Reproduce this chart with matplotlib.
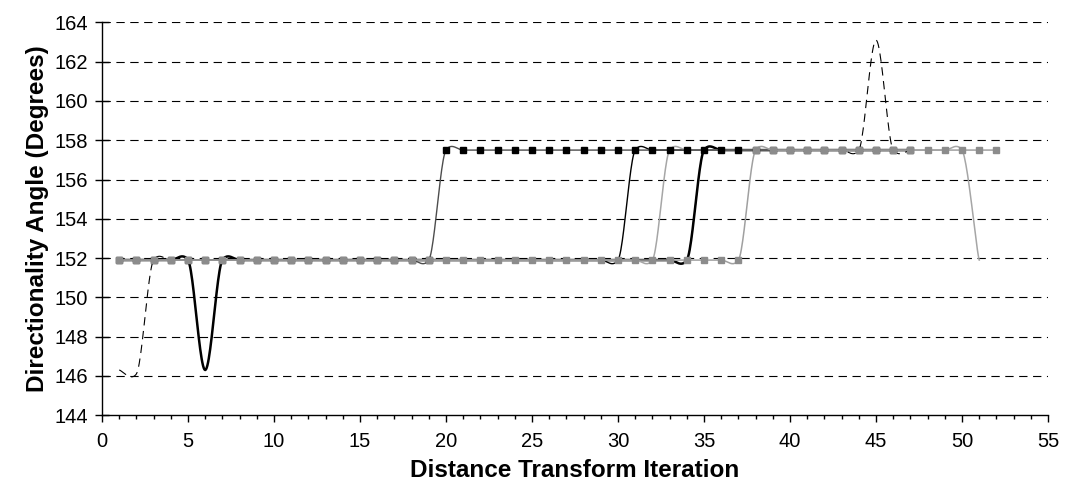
import numpy as np
import matplotlib
matplotlib.use("Agg")
import matplotlib.pyplot as plt

plt.rcParams['font.family'] = ['Liberation Sans', 'DejaVu Sans']

# ---------------- data ----------------
iter_A = list(range(1, 53))
angle_A = [151.9, 151.9, 151.9, 151.9, 151.9, 151.9, 151.9, 151.9, 151.9, 151.9,
           151.9, 151.9, 151.9, 151.9, 151.9, 151.9, 151.9, 151.9, 151.9, 151.9,
           151.9, 151.9, 151.9, 151.9, 151.9, 151.9, 151.9, 151.9, 151.9, 151.9,
           151.9, 151.9, 151.9, 151.9, 151.9, 151.9, 151.9, 157.5, 157.5, 157.5,
           157.5, 157.5, 157.5, 157.5, 157.5, 157.5, 157.5, 157.5, 157.5, 157.5,
           157.5, 157.5]

iter_B = list(range(1, 48))
angle_B = [151.9, 151.9, 151.9, 151.9, 151.9, 151.9, 151.9, 151.9, 151.9, 151.9,
           151.9, 151.9, 151.9, 151.9, 151.9, 151.9, 151.9, 151.9, 151.9, 157.5,
           157.5, 157.5, 157.5, 157.5, 157.5, 157.5, 157.5, 157.5, 157.5, 157.5,
           157.5, 157.5, 157.5, 157.5, 157.5, 157.5, 157.5, 157.5, 157.5, 157.5,
           157.5, 157.5, 157.5, 157.5, 157.5, 157.5, 157.5]

iter_C = list(range(1, 48))
angle_C = [151.9, 151.9, 151.9, 151.9, 151.9, 146.3, 151.9, 151.9, 151.9, 151.9,
           151.9, 151.9, 151.9, 151.9, 151.9, 151.9, 151.9, 151.9, 151.9, 151.9,
           151.9, 151.9, 151.9, 151.9, 151.9, 151.9, 151.9, 151.9, 151.9, 151.9,
           151.9, 151.9, 151.9, 151.9, 157.5, 157.5, 157.5, 157.5, 157.5, 157.5,
           157.5, 157.5, 157.5, 157.5, 157.5, 157.5, 157.5]

iter_D = list(range(1, 48))
angle_D = [151.9, 151.9, 151.9, 151.9, 151.9, 151.9, 151.9, 151.9, 151.9, 151.9,
           151.9, 151.9, 151.9, 151.9, 151.9, 151.9, 151.9, 151.9, 151.9, 151.9,
           151.9, 151.9, 151.9, 151.9, 151.9, 151.9, 151.9, 151.9, 151.9, 151.9,
           157.5, 157.5, 157.5, 157.5, 157.5, 157.5, 157.5, 157.5, 157.5, 157.5,
           157.5, 157.5, 157.5, 157.5, 157.5, 157.5, 157.5]

iter_E = list(range(1, 52))
angle_E = [151.9, 151.9, 151.9, 151.9, 151.9, 151.9, 151.9, 151.9, 151.9, 151.9,
           151.9, 151.9, 151.9, 151.9, 151.9, 151.9, 151.9, 151.9, 151.9, 151.9,
           151.9, 151.9, 151.9, 151.9, 151.9, 151.9, 151.9, 151.9, 151.9, 151.9,
           151.9, 151.9, 157.5, 157.5, 157.5, 157.5, 157.5, 157.5, 157.5, 157.5,
           157.5, 157.5, 157.5, 157.5, 157.5, 157.5, 157.5, 157.5, 157.5, 157.5,
           151.9]

iter_G = list(range(1, 48))
angle_G = [146.3, 146.1, 151.9, 151.9, 151.9, 151.9, 151.9, 151.9, 151.9, 151.9,
           151.9, 151.9, 151.9, 151.9, 151.9, 151.9, 151.9, 151.9, 151.9, 151.9,
           151.9, 151.9, 151.9, 151.9, 151.9, 151.9, 151.9, 151.9, 151.9, 151.9,
           151.9, 151.9, 151.9, 151.9, 157.5, 157.5, 157.5, 157.5, 157.5, 157.5,
           157.5, 157.5, 157.5, 157.5, 163.1, 157.5, 157.5]

x_ticks = [0, 5, 10, 15, 20, 25, 30, 35, 40, 45, 50, 55]
y_ticks = [144, 146, 148, 150, 152, 154, 156, 158, 160, 162, 164]


def smooth(xs, ys, n=24, k=0.45):
    """Excel-style smoothed line (Bezier with damped tangents) through the data points."""
    x = np.asarray(xs, float)
    y = np.asarray(ys, float)
    px = np.concatenate([[x[0]], x, [x[-1]]])
    py = np.concatenate([[y[0]], y, [y[-1]]])
    out_x, out_y = [], []
    t = np.linspace(0, 1, n, endpoint=False)
    f = k / 6.0
    for i in range(1, len(px) - 2):
        p0x, p1x, p2x, p3x = px[i - 1], px[i], px[i + 1], px[i + 2]
        p0y, p1y, p2y, p3y = py[i - 1], py[i], py[i + 1], py[i + 2]
        c1x, c1y = p1x + (p2x - p0x) / 6, p1y + (p2y - p0y) * f
        c2x, c2y = p2x - (p3x - p1x) / 6, p2y - (p3y - p1y) * f
        b0, b1, b2, b3 = (1 - t) ** 3, 3 * (1 - t) ** 2 * t, 3 * (1 - t) * t ** 2, t ** 3
        out_x.append(b0 * p1x + b1 * c1x + b2 * c2x + b3 * p2x)
        out_y.append(b0 * p1y + b1 * c1y + b2 * c2y + b3 * p2y)
    out_x.append([x[-1]])
    out_y.append([y[-1]])
    return np.concatenate(out_x), np.concatenate(out_y)


fig = plt.figure(figsize=(10.69, 4.99), dpi=100)
ax = fig.add_axes([0.0954, 0.168, 0.885, 0.787])

ax.set_xlim(0, 55)
ax.set_ylim(144, 164)

# grid
for yv in y_ticks[1:]:
    ax.axhline(yv, color='black', lw=0.8, ls=(0, (7.5, 5)), zorder=1)

# dashed series
gx, gy = smooth(iter_G, angle_G)
ax.plot(gx, gy, color='black', lw=0.8, ls=(0, (7.5, 5)), zorder=3)

# thick black
cx, cy = smooth(iter_C, angle_C)
ax.plot(cx, cy, color='black', lw=1.8, zorder=4)

# thin black
dx, dy = smooth(iter_D, angle_D)
ax.plot(dx, dy, color='black', lw=1.0, zorder=4)

# light gray
ex, ey = smooth(iter_E, angle_E)
ax.plot(ex, ey, color='#a6a6a6', lw=1.1, zorder=4)

# black squares
bx, by = smooth(iter_B, angle_B)
ax.plot(bx, by, color='#4d4d4d', lw=1.0, zorder=5)
ax.plot(iter_B, angle_B, ls='none', marker='s', ms=4.2, color='black', zorder=6)

# gray squares
axx, ayy = smooth(iter_A, angle_A)
ax.plot(axx, ayy, color='#a0a0a0', lw=1.1, zorder=7)
ax.plot(iter_A, angle_A, ls='none', marker='s', ms=4.6, color='#8c8c8c', zorder=8)

# axes styling
for s in ['top', 'right']:
    ax.spines[s].set_visible(False)
for s in ['left', 'bottom']:
    ax.spines[s].set_color('black')
    ax.spines[s].set_linewidth(1.0)

ax.set_xticks(x_ticks)
ax.set_xticks(range(0, 56), minor=True)
ax.set_yticks(y_ticks)
ax.tick_params(axis='x', which='major', direction='out', length=5, width=1, labelsize=14.5, pad=7)
ax.tick_params(axis='x', which='minor', direction='out', length=3, width=1)
ax.tick_params(axis='y', which='major', direction='inout', length=10, width=1, labelsize=14.5, pad=5)

ax.set_xlabel('Distance Transform Iteration', fontsize=17.5, fontweight='bold', labelpad=6)
ax.set_ylabel('Directionality Angle (Degrees)', fontsize=17.5, fontweight='bold', labelpad=4)

fig.savefig('out.png', dpi=100)
